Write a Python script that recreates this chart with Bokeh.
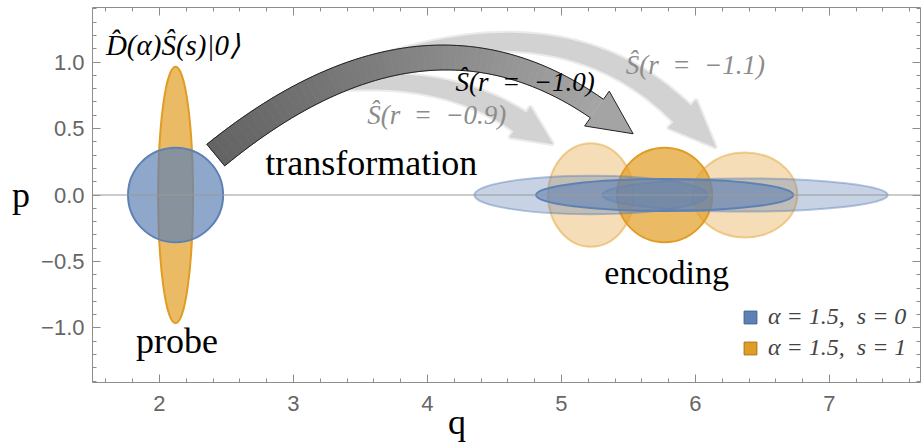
import numpy as np
from bokeh.plotting import figure
from bokeh.models import (Range1d, LinearAxis, FixedTicker, Span, Label,
                          Legend, LegendItem)
from bokeh.embed import file_html
from bokeh.resources import INLINE

# ---------------- data ----------------
probe_q = [2.12]
probe_p = [0.0]
probe_blue_w = [0.71]
probe_blue_h = [0.71]
probe_orange_w = [0.26]
probe_orange_h = [1.93]

enc_r = [-0.9, -1.0, -1.1]
enc_q = [5.22, 5.77, 6.37]
enc_p = [0.0, 0.0, 0.0]
enc_orange_w = [0.64, 0.71, 0.78]
enc_orange_h = [0.78, 0.71, 0.64]
enc_blue_w = [1.74, 1.92, 2.13]
enc_blue_h = [0.29, 0.24, 0.25]

x_ticks = [2, 3, 4, 5, 6, 7]
y_ticks = [-1.0, -0.5, 0.0, 0.5, 1.0]
y_tick_labels = ["\u22121.0", "\u22120.5", "0.0", "0.5", "1.0"]
NB = "\u00a0"
legend_labels = ["\u03b1 = 1.5," + NB + " s = 0", "\u03b1 = 1.5," + NB + " s = 1"]

BLUE = "#5E81B5"
ORANGE = "#E19C24"
AX = "#8c8c8c"

p = figure(width=923, height=446, x_range=Range1d(1.5, 7.68),
           y_range=Range1d(-1.41, 1.41), output_backend="svg",
           toolbar_location=None, min_border_left=92, min_border_right=3,
           min_border_top=7, min_border_bottom=64)
p.grid.visible = False
p.outline_line_color = None
p.background_fill_color = "white"
p.border_fill_color = "white"

x_minor = [round(v, 2) for v in np.arange(1.6, 7.69, 0.2) if abs(v - round(v)) > 1e-6]
y_minor = [round(v, 2) for v in np.arange(-1.4, 1.41, 0.1) if abs(v * 2 - round(v * 2)) > 1e-6]


def style_axis(ax, ticks, minor, show_labels):
    ax.ticker = FixedTicker(ticks=ticks, minor_ticks=minor)
    ax.major_tick_in = 8
    ax.major_tick_out = 0
    ax.minor_tick_in = 4
    ax.minor_tick_out = 0
    ax.axis_line_color = AX
    ax.major_tick_line_color = AX
    ax.minor_tick_line_color = AX
    if show_labels:
        ax.major_label_text_font = "Liberation Sans"
        ax.major_label_text_font_size = "22px"
        ax.major_label_text_color = "#666666"
        ax.major_label_standoff = 8
    else:
        ax.major_label_text_font_size = "1px"
        ax.major_label_text_color = None
        ax.major_label_standoff = 0
        ax.axis_label_standoff = 0


style_axis(p.xaxis[0], x_ticks, x_minor, True)
style_axis(p.yaxis[0], y_ticks, y_minor, True)
p.yaxis[0].major_label_overrides = {float(t): s for t, s in zip(y_ticks, y_tick_labels)}
p.yaxis[0].axis_label = "p"
p.yaxis[0].axis_label_orientation = "horizontal"
p.yaxis[0].axis_label_text_font = "Liberation Serif"
p.yaxis[0].axis_label_text_font_style = "normal"
p.yaxis[0].axis_label_text_font_size = "36px"
p.yaxis[0].axis_label_text_color = "black"
p.yaxis[0].axis_label_standoff = 8

xa = p.xaxis[0]
xa.major_label_standoff = 13
xa.axis_label = "q" + NB * 11
xa.axis_label_text_font = "Liberation Serif"
xa.axis_label_text_font_style = "normal"
xa.axis_label_text_font_size = "36px"
xa.axis_label_text_color = "black"
xa.axis_label_standoff = -12

top_ax = LinearAxis()
style_axis(top_ax, x_ticks, x_minor, False)
p.add_layout(top_ax, "above")
right_ax = LinearAxis()
style_axis(right_ax, y_ticks, y_minor, False)
p.add_layout(right_ax, "right")

p.add_layout(Span(location=0, dimension="width", line_color="#999999", line_width=1))

# ---------------- arrows ----------------
def arrow_geom(P0, P1, P2, w0, w1, head_w, head_len, n=60):
    P0, P1, P2 = map(np.asarray, (P0, P1, P2))
    t = np.linspace(0, 1, n)[:, None]
    B = (1 - t) ** 2 * P0 + 2 * t * (1 - t) * P1 + t ** 2 * P2
    D = 2 * (1 - t) * (P1 - P0) + 2 * t * (P2 - P1)
    D = D / np.linalg.norm(D, axis=1)[:, None]
    N = np.column_stack([-D[:, 1], D[:, 0]])
    w = (w0 + (w1 - w0) * t)
    left = B + N * w / 2
    right = B - N * w / 2
    tip = P2 + D[-1] * head_len
    wl = P2 + N[-1] * head_w / 2
    wr = P2 - N[-1] * head_w / 2
    return left, right, tip, wl, wr


def outline(left, right, tip, wl, wr):
    xs = list(left[:, 0]) + [wl[0], tip[0], wr[0]] + list(right[::-1, 0])
    ys = list(left[:, 1]) + [wl[1], tip[1], wr[1]] + list(right[::-1, 1])
    return xs, ys


light_arrows = [
    ((3.2, 0.82), (4.10, 0.95), (4.69, 0.55), 0.10, 0.17, 0.28, 0.30),
    ((3.2, 0.83), (4.94, 1.57), (5.90, 0.61), 0.10, 0.18, 0.30, 0.36),
]
for a in light_arrows:
    xs, ys = outline(*arrow_geom(*a))
    p.patch(xs, ys, fill_color="#d2d2d2", line_color="#d2d2d2", line_width=4, line_alpha=0.45)

main = ((2.42, 0.30), (3.96, 1.565), (5.265, 0.65), 0.21, 0.17, 0.32, 0.33)
left, right, tip, wl, wr = arrow_geom(*main)
n = len(left)
qx, qy, cols = [], [], []
for i in range(n - 1):
    qx.append([left[i, 0], left[i + 1, 0], right[i + 1, 0], right[i, 0]])
    qy.append([left[i, 1], left[i + 1, 1], right[i + 1, 1], right[i, 1]])
    g = int(100 + (165 - 100) * i / (n - 2))
    cols.append("#%02x%02x%02x" % (g, g, g))
p.patches(qx, qy, fill_color=cols, line_color=cols, line_width=0.8)
p.patch([wl[0], tip[0], wr[0]], [wl[1], tip[1], wr[1]], fill_color="#a4a4a4", line_color=None)
xs, ys = outline(left, right, tip, wl, wr)
p.patch(xs + [xs[0]], ys + [ys[0]], fill_alpha=0, line_color="#222222", line_width=1)

# ---------------- states ----------------
for i in [0, 2]:
    p.ellipse(x=[enc_q[i]], y=[enc_p[i]], width=[enc_orange_w[i]], height=[enc_orange_h[i]],
              fill_color=ORANGE, fill_alpha=0.33, line_color=ORANGE, line_alpha=0.45, line_width=2)
p.ellipse(x=[enc_q[1]], y=[enc_p[1]], width=[enc_orange_w[1]], height=[enc_orange_h[1]],
          fill_color=ORANGE, fill_alpha=0.7, line_color=ORANGE, line_width=2)
for i in [0, 2]:
    p.ellipse(x=[enc_q[i]], y=[enc_p[i]], width=[enc_blue_w[i]], height=[enc_blue_h[i]],
              fill_color=BLUE, fill_alpha=0.35, line_color=BLUE, line_alpha=0.45, line_width=2)
p.ellipse(x=[enc_q[1]], y=[enc_p[1]], width=[enc_blue_w[1]], height=[enc_blue_h[1]],
          fill_color=BLUE, fill_alpha=0.6, line_color=BLUE, line_width=2)

p.ellipse(x=probe_q, y=probe_p, width=probe_orange_w, height=probe_orange_h,
          fill_color=ORANGE, fill_alpha=0.7, line_color=ORANGE, line_width=2)
p.ellipse(x=probe_q, y=probe_p, width=probe_blue_w, height=probe_blue_h,
          fill_color=BLUE, fill_alpha=0.7, line_color=BLUE, line_width=2)

# ---------------- texts ----------------
EQ = NB + " =" + NB + " "
texts = [
    ("D\u0302(\u03b1)\u015c(s)|0\u27e9", 1.60, 1.128, "black", "29px", "italic", "left"),
    ("\u015c(r" + EQ + "\u22120.9)", 3.55, 0.60, "#8c8c8c", "27px", "italic", "left"),
    ("\u015c(r" + EQ + "\u22121.0)", 4.21, 0.85, "black", "27px", "italic", "left"),
    ("\u015c(r" + EQ + "\u22121.1)", 5.48, 0.975, "#8c8c8c", "27px", "italic", "left"),
    ("transformation", 2.79, 0.24, "black", "36px", "normal", "left"),
    ("probe", 2.13, -1.10, "black", "36px", "normal", "center"),
    ("encoding", 5.32, -0.58, "black", "34px", "normal", "left"),
]
for txt, x, y, c, fs, st, al in texts:
    p.add_layout(Label(x=x, y=y, text=txt, text_color=c, text_font="Liberation Serif",
                       text_font_size=fs, text_font_style=st, text_align=al,
                       text_baseline="alphabetic"))

# ---------------- legend ----------------
r_b = p.quad(left=probe_q, right=probe_q, top=probe_p, bottom=probe_p,
             fill_color=BLUE, line_color="#3f5f8f")
r_o = p.quad(left=probe_q, right=probe_q, top=probe_p, bottom=probe_p,
             fill_color=ORANGE, line_color="#a8731a")
r_b.visible = False
r_o.visible = False
legend = Legend(items=[LegendItem(label=legend_labels[0], renderers=[r_b]),
                       LegendItem(label=legend_labels[1], renderers=[r_o])],
                location=(650, 21), glyph_width=16, glyph_height=16,
                label_text_font="Liberation Serif", label_text_font_style="italic",
                label_text_font_size="24px", background_fill_alpha=0,
                border_line_alpha=0, padding=0, margin=0, spacing=4,
                label_standoff=10, label_height=18, inactive_fill_alpha=0)
p.add_layout(legend)

open("out.html", "w").write(file_html(p, INLINE))
